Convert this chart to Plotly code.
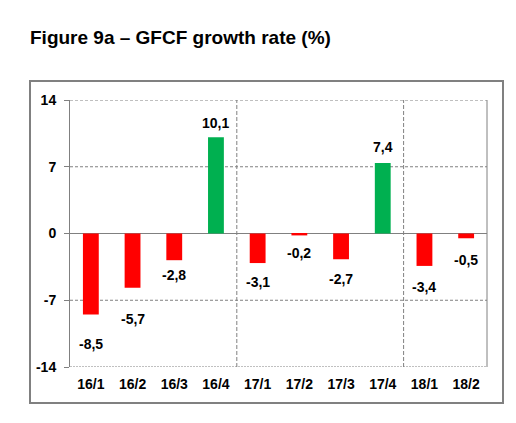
import plotly.graph_objects as go

categories = ["16/1", "16/2", "16/3", "16/4", "17/1", "17/2", "17/3", "17/4", "18/1", "18/2"]
growth = [-8.5, -5.7, -2.8, 10.1, -3.1, -0.2, -2.7, 7.4, -3.4, -0.5]
y_ticks = [-14, -7, 0, 7, 14]

# label offsets (px) from the bar end, as placed in the original
label_gap = [29, 31, 15, 14, 19, 18, 20, 16, 21, 22]

RED = "#FF0000"
GREEN = "#00B050"
GRAY = "#808080"
FONT = "Liberation Sans, Arial, sans-serif"

colors = [GREEN if v > 0 else RED for v in growth]
labels = [f"{v:.1f}".replace(".", ",") for v in growth]

fig = go.Figure()
fig.add_trace(go.Bar(x=categories, y=growth, marker_color=colors, marker_line_width=0,
                     width=0.38, hoverinfo="x+y"))

OFF = 8  # default page body margin
W, H = 516 - OFF, 423 - OFF
L, R, T, B = 70 - OFF, 487 - OFF, 100 - OFF, 367 - OFF

shapes = []
for yv in y_ticks:
    if yv == 0:
        continue
    shapes.append(dict(type="line", xref="paper", yref="y", x0=0, x1=1, y0=yv, y1=yv,
                       line=dict(color=GRAY, width=1, dash="2px,1px" if yv == y_ticks[0] else "3px,2px"),
                       layer="below"))
for i in range(1, len(categories)):
    if categories[i].split("/")[0] != categories[i - 1].split("/")[0]:
        shapes.append(dict(type="line", xref="x", yref="paper", x0=i - 0.5, x1=i - 0.5, y0=0, y1=1,
                           line=dict(color=GRAY, width=1, dash="4px,2px"), layer="below"))
shapes.append(dict(type="line", xref="paper", yref="paper", x0=1, x1=1, y0=0, y1=1,
                   line=dict(color=GRAY, width=1)))
pw, ph = R - L, B - T
shapes.append(dict(type="rect", xref="paper", yref="paper",
                   x0=(30 - OFF - L) / pw, x1=(503 - OFF - L) / pw,
                   y0=(B - (403 - OFF)) / ph, y1=(B - (81 - OFF)) / ph,
                   line=dict(color=GRAY, width=2), fillcolor="rgba(0,0,0,0)"))

annotations = []
for c, v, t, g in zip(categories, growth, labels, label_gap):
    annotations.append(dict(x=c, y=v, text=f"<b>{t}</b>", showarrow=False,
                            yanchor="middle", xanchor="center",
                            yshift=g if v > 0 else -g,
                            font=dict(family=FONT, size=14, color="black")))
annotations.append(dict(x=(30 - OFF - L) / pw, y=(B - (37 - OFF)) / ph, xref="paper", yref="paper",
                        text="<b>Figure 9a – GFCF growth rate (%)</b>", showarrow=False,
                        xanchor="left", yanchor="middle", xshift=-2,
                        font=dict(family=FONT, size=19, color="black")))

fig.update_layout(
    width=W, height=H,
    margin=dict(l=L, r=W - R, t=T, b=H - B),
    paper_bgcolor="white", plot_bgcolor="white",
    showlegend=False,
    shapes=shapes, annotations=annotations,
    xaxis=dict(showgrid=False, showline=False, ticks="", tickfont=dict(family=FONT, size=14, color="black"),
               tickprefix="<b>", ticksuffix="</b>", range=[-0.5, len(categories) - 0.5],
               ticklabelstandoff=7, fixedrange=True),
    yaxis=dict(range=[-14, 14], tickvals=y_ticks, ticktext=[f"<b>{v}</b>" for v in y_ticks],
               showgrid=False, zeroline=True, zerolinecolor=GRAY, zerolinewidth=1,
               showline=True, linecolor=GRAY, linewidth=1, ticks="outside", ticklen=5,
               tickcolor=GRAY, tickfont=dict(family=FONT, size=14, color="black"),
               ticklabelstandoff=5, fixedrange=True),
)

fig.write_html("out.html")
